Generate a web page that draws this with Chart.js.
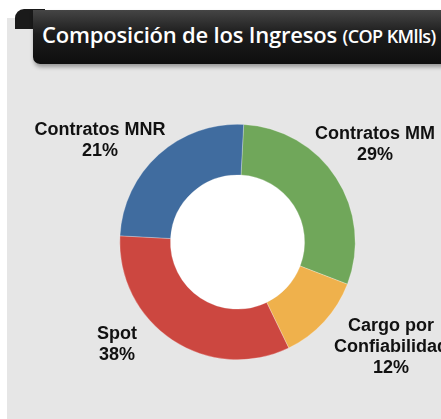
<html lang="es">
<head>
    <meta charset="utf-8">
    <title>Composición de los Ingresos</title>
    <script src="https://cdn.jsdelivr.net/npm/chart.js@4.4.1/dist/chart.umd.min.js"></script>
    <style>
        body { margin: 0; width: 441px; height: 419px; background: #fff; position: relative; overflow: hidden; }
        #panel { position: absolute; left: 7px; top: 18px; width: 434px; height: 401px; background: #e6e6e6; }
        #tab { position: absolute; left: 15px; top: 9px; width: 30px; height: 20px; background: #1a1a1a; border-radius: 9px 0 0 0; }
        #header {
            position: absolute; left: 33px; top: 10px; width: 420px; height: 54px;
            background: linear-gradient(#454545, #1c1c1c 45%, #0e0e0e);
            border-radius: 0 0 0 7px; box-shadow: 1px 3px 4px rgba(0,0,0,0.35);
            color: #fff; font-family: "Open Sans", sans-serif; font-weight: 600;
        }
        #header span.main { position: absolute; left: 9px; top: 9px; font-size: 22px; letter-spacing: -0.2px; white-space: nowrap; }
        #header span.main small { font-size: 18px; letter-spacing: -0.6px; }
        #chart { position: absolute; left: 0; top: 0; }
    </style>
</head>
<body>
<div id="panel"></div>
<div id="tab"></div>
<div id="header"><span class="main">Composición de los Ingresos <small>(COP KMlls)</small></span></div>
<canvas id="chart" width="441" height="419"></canvas>
<script>
    // data
    const categories = ['Contratos MM', 'Cargo por Confiabilidad', 'Spot', 'Contratos MNR'];
    const shares = [30, 12, 33, 25];
    const labelLines = [['Contratos MM', '29%'], ['Cargo por', 'Confiabilidad', '12%'], ['Spot', '38%'], ['Contratos MNR', '21%']];
    const colors = ['#70a75a', '#efb14c', '#cc4740', '#406c9f'];

    // where each label block sits (center x, first line y)
    const labelPos = [[375, 134], [391, 326], [117, 334], [100, 130]];

    const sliceLabels = {
        id: 'sliceLabels',
        beforeDatasetsDraw(chart) {
            const arc = chart.getDatasetMeta(0).data[0];
            const ctx = chart.ctx;
            ctx.save();
            ctx.fillStyle = '#ffffff';
            ctx.beginPath();
            ctx.arc(arc.x, arc.y, arc.innerRadius, 0, Math.PI * 2);
            ctx.fill();
            ctx.restore();
        },
        afterDatasetsDraw(chart) {
            const ctx = chart.ctx;
            ctx.save();
            ctx.fillStyle = '#111';
            ctx.font = 'bold 18px "Liberation Sans", Arial, sans-serif';
            ctx.textAlign = 'center';
            ctx.textBaseline = 'middle';
            labelLines.forEach((lines, i) => {
                const p = labelPos[i];
                lines.forEach((t, j) => ctx.fillText(t, p[0], p[1] + j * 21));
            });
            ctx.restore();
        }
    };

    new Chart(document.getElementById('chart'), {
        type: 'doughnut',
        data: {
            labels: categories,
            datasets: [{
                data: shares,
                backgroundColor: colors,
                borderColor: 'rgba(255,255,255,0.45)',
                borderWidth: 0.6
            }]
        },
        options: {
            responsive: false,
            animation: false,
            rotation: 3,
            cutout: '57%',
            layout: { padding: { left: 119.5, right: 85.5, top: 124, bottom: 59 } },
            plugins: { legend: { display: false }, tooltip: { enabled: false } }
        },
        plugins: [sliceLabels]
    });
</script>
</body>
</html>
